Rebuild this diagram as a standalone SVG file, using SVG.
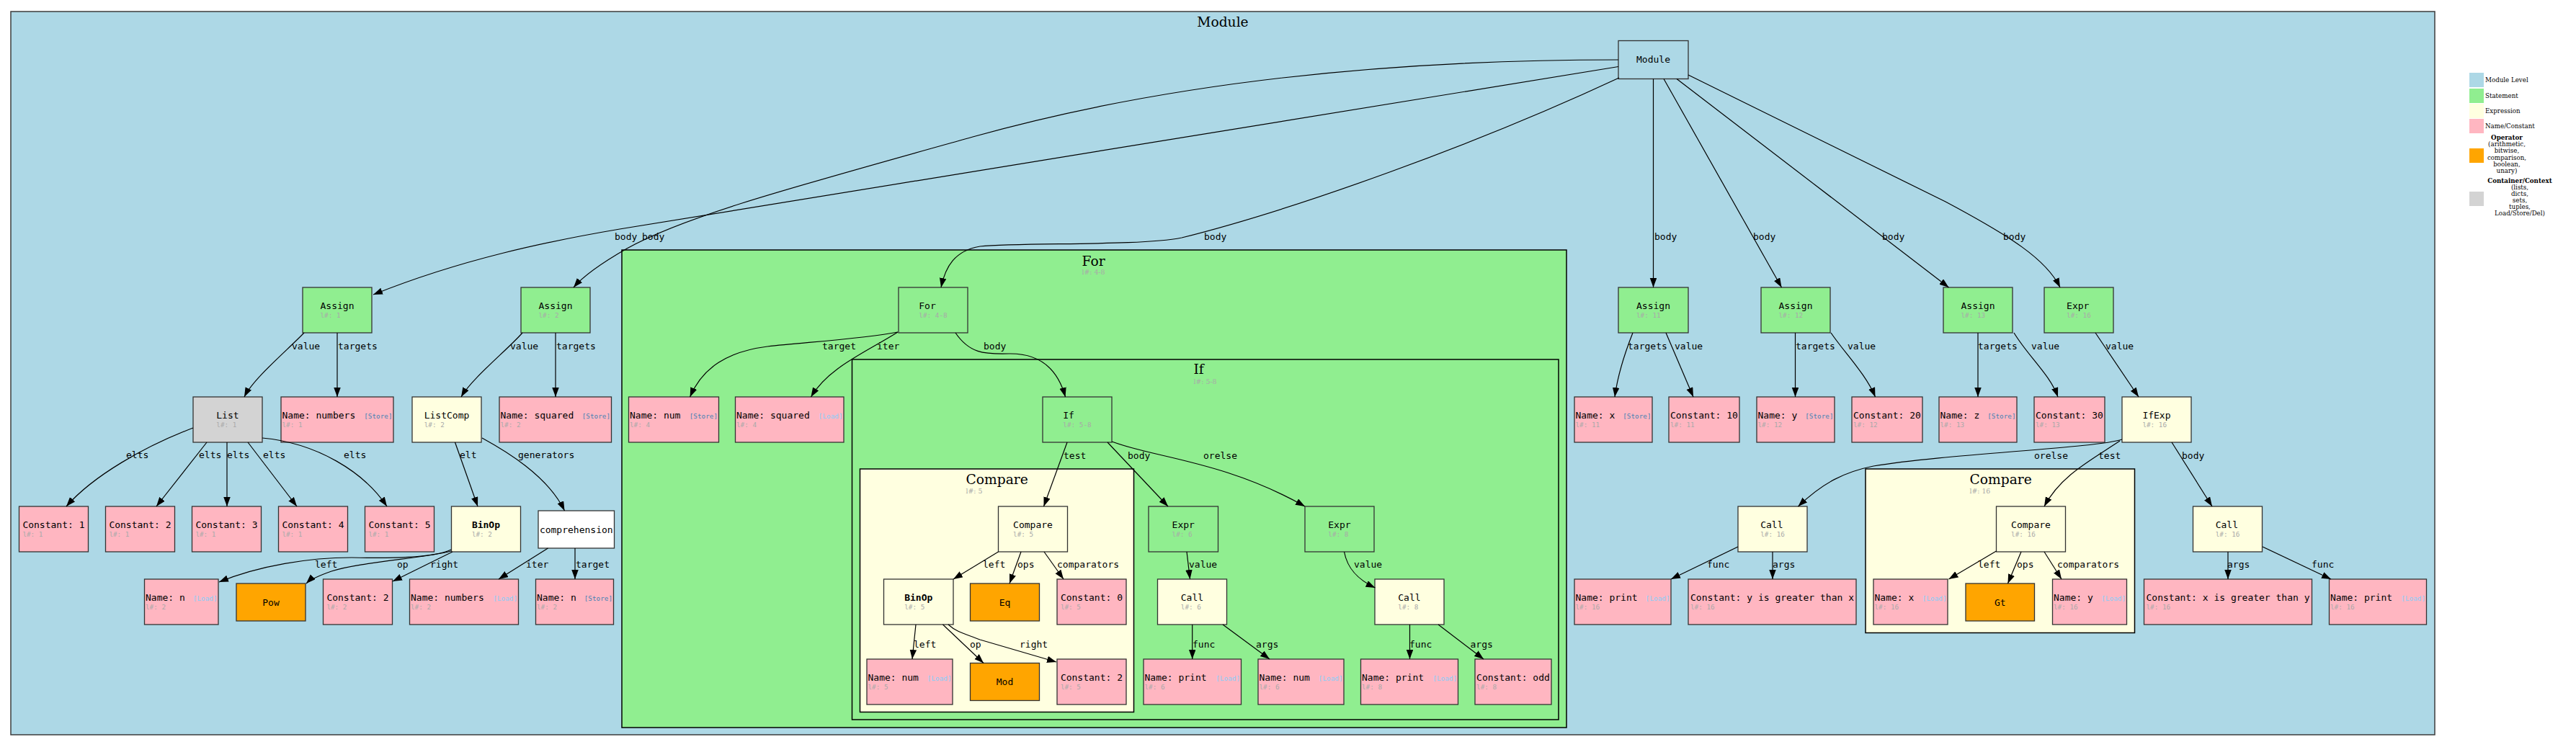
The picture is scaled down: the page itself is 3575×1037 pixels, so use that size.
<svg xmlns="http://www.w3.org/2000/svg" width="3575" height="1037" viewBox="0 0 3575 1037">
<style>
.n{stroke:#333;stroke-width:1.3}
.m{fill:#ADD8E6}.s{fill:#90EE90}.x{fill:#FFFFE0}.p{fill:#FFB6C1}.o{fill:#FFA500}.g{fill:#D3D3D3}.w{fill:#fff}
.t{font-family:"DejaVu Sans Mono",monospace;font-size:13px;fill:#000}
.b{font-weight:bold}
.c{text-anchor:middle}
.sub{font-family:"DejaVu Sans Mono",monospace;font-size:9.33px;fill:#a9a9a9}
.st{font-family:"DejaVu Sans Mono",monospace;font-size:9.33px;fill:#4682B4;text-anchor:end}
.ld{font-family:"DejaVu Sans Mono",monospace;font-size:9.33px;fill:#87CEFA;text-anchor:end}
.e{fill:none;stroke:#000;stroke-width:1.2;marker-end:url(#ah)}
.el{font-family:"DejaVu Sans Mono",monospace;font-size:13px;fill:#000}
.cl{stroke:#000;stroke-width:1.5}
.ct{font-family:"DejaVu Serif",serif;font-size:18.67px;fill:#000}
.cs{font-family:"DejaVu Serif",serif;font-size:9.33px;fill:#a9a9a9}
.lg{font-family:"DejaVu Serif",serif;font-size:8.7px;fill:#000}
.lb{font-weight:bold;text-anchor:middle}
.lc{text-anchor:middle}
</style>
<defs>
<marker id="ah" markerUnits="userSpaceOnUse" markerWidth="14" markerHeight="10" viewBox="0 0 14 10" refX="13" refY="4.75" orient="auto"><path d="M0,0 L13,4.75 L0,9.5 z" fill="#000"/></marker>
</defs>
<rect width="3575" height="1037" fill="#fff"/>
<g id="cluster_module"><rect x="15" y="16" width="3364" height="1004" fill="#ADD8E6" stroke="#3c3c3c" stroke-width="1.5"/><text class="ct c" x="1697" y="36.5">Module</text></g>
<g id="cluster_for"><rect class="cl" x="863" y="347" width="1311" height="663" fill="#90EE90"/><text class="ct" x="1501.5" y="369">For</text><text class="cs" x="1501.5" y="381">l#: 4-8</text></g>
<g id="cluster_if"><rect class="cl" x="1182.5" y="499" width="980.5" height="500" fill="#90EE90"/><text class="ct" x="1656.5" y="519">If</text><text class="cs" x="1656.5" y="532.5">l#: 5-8</text></g>
<g id="cluster_compare5"><rect class="cl" x="1193.5" y="651" width="380" height="337.5" fill="#FFFFE0"/><text class="ct" x="1340.5" y="672">Compare</text><text class="cs" x="1340.5" y="684.5">l#: 5</text></g>
<g id="cluster_compare16"><rect class="cl" x="2589" y="651" width="373.5" height="227.5" fill="#FFFFE0"/><text class="ct" x="2733.5" y="672">Compare</text><text class="cs" x="2733.5" y="685">l#: 16</text></g>

<g id="n_module"><rect class="n m" x="2246" y="56.5" width="97" height="53"/><text class="t c" x="2294.5" y="87">Module</text></g>
<g id="n_assign1"><rect class="n s" x="420" y="399" width="96" height="63"/><text class="t" x="444.5" y="428.5">Assign</text><text class="sub" x="444.5" y="440.5">l#: 1</text></g>
<g id="n_assign2"><rect class="n s" x="723" y="399" width="96" height="63"/><text class="t" x="747.5" y="428.5">Assign</text><text class="sub" x="747.5" y="440.5">l#: 2</text></g>
<g id="n_for"><rect class="n s" x="1247" y="399" width="96" height="63"/><text class="t" x="1275.3" y="428.5">For</text><text class="sub" x="1275.3" y="440.5">l#: 4-8</text></g>
<g id="n_assign11"><rect class="n s" x="2246" y="399" width="97" height="63"/><text class="t" x="2271" y="428.5">Assign</text><text class="sub" x="2271" y="440.5">l#: 11</text></g>
<g id="n_assign12"><rect class="n s" x="2444" y="399" width="96" height="63"/><text class="t" x="2468.5" y="428.5">Assign</text><text class="sub" x="2468.5" y="440.5">l#: 12</text></g>
<g id="n_assign13"><rect class="n s" x="2697" y="399" width="96" height="63"/><text class="t" x="2721.5" y="428.5">Assign</text><text class="sub" x="2721.5" y="440.5">l#: 13</text></g>
<g id="n_expr16"><rect class="n s" x="2837" y="399" width="96" height="63"/><text class="t" x="2868.1" y="428.5">Expr</text><text class="sub" x="2868.1" y="440.5">l#: 16</text></g>

<g id="n_list"><rect class="n g" x="268" y="551" width="96" height="63"/><text class="t" x="300.3" y="580.5">List</text><text class="sub" x="300.3" y="592.5">l#: 1</text></g>
<g id="n_name_numbers_store"><rect class="n p" x="390" y="551" width="156" height="63"/><text class="t" x="391.5" y="580.5">Name: numbers</text><text class="st" x="544.5" y="580.5">[Store]</text><text class="sub" x="391.5" y="592.5">l#: 1</text></g>
<g id="n_listcomp"><rect class="n x" x="572" y="551" width="96" height="63"/><text class="t" x="588.7" y="580.5">ListComp</text><text class="sub" x="588.7" y="592.5">l#: 2</text></g>
<g id="n_name_squared_store"><rect class="n p" x="693" y="551" width="155.5" height="63"/><text class="t" x="694.5" y="580.5">Name: squared</text><text class="st" x="847" y="580.5">[Store]</text><text class="sub" x="694.5" y="592.5">l#: 2</text></g>
<g id="n_name_num_store"><rect class="n p" x="872.5" y="551" width="125" height="63"/><text class="t" x="874" y="580.5">Name: num</text><text class="st" x="996" y="580.5">[Store]</text><text class="sub" x="874" y="592.5">l#: 4</text></g>
<g id="n_name_squared_load"><rect class="n p" x="1020.5" y="551" width="150.5" height="63"/><text class="t" x="1022" y="580.5">Name: squared</text><text class="ld" x="1169.5" y="580.5">[Load]</text><text class="sub" x="1022" y="592.5">l#: 4</text></g>
<g id="n_if"><rect class="n s" x="1447" y="551" width="96" height="63"/><text class="t" x="1475.3" y="580.5">If</text><text class="sub" x="1475.3" y="592.5">l#: 5-8</text></g>
<g id="n_name_x_store"><rect class="n p" x="2185" y="551" width="108" height="63"/><text class="t" x="2186.5" y="580.5">Name: x</text><text class="st" x="2291.5" y="580.5">[Store]</text><text class="sub" x="2186.5" y="592.5">l#: 11</text></g>
<g id="n_const10"><rect class="n p" x="2316" y="551" width="98" height="63"/><text class="t" x="2318" y="580.5">Constant: 10</text><text class="sub" x="2318" y="592.5">l#: 11</text></g>
<g id="n_name_y_store"><rect class="n p" x="2438" y="551" width="108" height="63"/><text class="t" x="2439.5" y="580.5">Name: y</text><text class="st" x="2544.5" y="580.5">[Store]</text><text class="sub" x="2439.5" y="592.5">l#: 12</text></g>
<g id="n_const20"><rect class="n p" x="2570" y="551" width="98" height="63"/><text class="t" x="2572" y="580.5">Constant: 20</text><text class="sub" x="2572" y="592.5">l#: 12</text></g>
<g id="n_name_z_store"><rect class="n p" x="2691" y="551" width="108" height="63"/><text class="t" x="2692.5" y="580.5">Name: z</text><text class="st" x="2797.5" y="580.5">[Store]</text><text class="sub" x="2692.5" y="592.5">l#: 13</text></g>
<g id="n_const30"><rect class="n p" x="2823" y="551" width="98" height="63"/><text class="t" x="2825" y="580.5">Constant: 30</text><text class="sub" x="2825" y="592.5">l#: 13</text></g>
<g id="n_ifexp"><rect class="n x" x="2945" y="551" width="96" height="63"/><text class="t" x="2973.4" y="580.5">IfExp</text><text class="sub" x="2973.4" y="592.5">l#: 16</text></g>

<g id="n_const1"><rect class="n p" x="26.5" y="703" width="96" height="63"/><text class="t" x="31.4" y="732.5">Constant: 1</text><text class="sub" x="31.4" y="744.5">l#: 1</text></g>
<g id="n_const2"><rect class="n p" x="146.5" y="703" width="96" height="63"/><text class="t" x="151.4" y="732.5">Constant: 2</text><text class="sub" x="151.4" y="744.5">l#: 1</text></g>
<g id="n_const3"><rect class="n p" x="266.5" y="703" width="96" height="63"/><text class="t" x="271.4" y="732.5">Constant: 3</text><text class="sub" x="271.4" y="744.5">l#: 1</text></g>
<g id="n_const4"><rect class="n p" x="386.5" y="703" width="96" height="63"/><text class="t" x="391.4" y="732.5">Constant: 4</text><text class="sub" x="391.4" y="744.5">l#: 1</text></g>
<g id="n_const5"><rect class="n p" x="506.5" y="703" width="96" height="63"/><text class="t" x="511.4" y="732.5">Constant: 5</text><text class="sub" x="511.4" y="744.5">l#: 1</text></g>
<g id="n_binop2"><rect class="n x" x="626.5" y="703" width="96" height="63"/><text class="t b" x="654.9" y="732.5">BinOp</text><text class="sub" x="654.9" y="744.5">l#: 2</text></g>
<g id="n_comprehension"><rect class="n w" x="747" y="709" width="105.5" height="52"/><text class="t c" x="799.75" y="739.5">comprehension</text></g>
<g id="n_compare5"><rect class="n x" x="1385.5" y="703" width="96" height="63"/><text class="t" x="1406.1" y="732.5">Compare</text><text class="sub" x="1406.1" y="744.5">l#: 5</text></g>
<g id="n_expr6"><rect class="n s" x="1594" y="703" width="96.5" height="63"/><text class="t" x="1626.6" y="732.5">Expr</text><text class="sub" x="1626.6" y="744.5">l#: 6</text></g>
<g id="n_expr8"><rect class="n s" x="1811" y="703" width="96" height="63"/><text class="t" x="1843.3" y="732.5">Expr</text><text class="sub" x="1843.3" y="744.5">l#: 8</text></g>
<g id="n_call16a"><rect class="n x" x="2412" y="703" width="96" height="63"/><text class="t" x="2443.2" y="732.5">Call</text><text class="sub" x="2443.2" y="744.5">l#: 16</text></g>
<g id="n_compare16"><rect class="n x" x="2770.5" y="703" width="96" height="63"/><text class="t" x="2791.1" y="732.5">Compare</text><text class="sub" x="2791.1" y="744.5">l#: 16</text></g>
<g id="n_call16b"><rect class="n x" x="3043.5" y="703" width="96" height="63"/><text class="t" x="3074.7" y="732.5">Call</text><text class="sub" x="3074.7" y="744.5">l#: 16</text></g>

<g id="n_name_n_load"><rect class="n p" x="200.5" y="804" width="102.5" height="63"/><text class="t" x="202" y="833.5">Name: n</text><text class="ld" x="301.5" y="833.5">[Load]</text><text class="sub" x="202" y="845.5">l#: 2</text></g>
<g id="n_pow"><rect class="n o" x="328" y="810" width="96" height="52"/><text class="t c" x="376" y="840.5">Pow</text></g>
<g id="n_const2_l2"><rect class="n p" x="448.5" y="804" width="96" height="63"/><text class="t" x="453.4" y="833.5">Constant: 2</text><text class="sub" x="453.4" y="845.5">l#: 2</text></g>
<g id="n_name_numbers_load"><rect class="n p" x="568.5" y="804" width="151" height="63"/><text class="t" x="570" y="833.5">Name: numbers</text><text class="ld" x="718" y="833.5">[Load]</text><text class="sub" x="570" y="845.5">l#: 2</text></g>
<g id="n_name_n_store"><rect class="n p" x="743.5" y="804" width="108" height="63"/><text class="t" x="745" y="833.5">Name: n</text><text class="st" x="850" y="833.5">[Store]</text><text class="sub" x="745" y="845.5">l#: 2</text></g>
<g id="n_binop5"><rect class="n x" x="1226.5" y="804" width="96.5" height="63"/><text class="t b" x="1255.2" y="833.5">BinOp</text><text class="sub" x="1255.2" y="845.5">l#: 5</text></g>
<g id="n_eq"><rect class="n o" x="1346.5" y="810" width="96" height="52"/><text class="t c" x="1394.5" y="840.5">Eq</text></g>
<g id="n_const0"><rect class="n p" x="1467" y="804" width="96" height="63"/><text class="t" x="1471.9" y="833.5">Constant: 0</text><text class="sub" x="1471.9" y="845.5">l#: 5</text></g>
<g id="n_call6"><rect class="n x" x="1606.5" y="804" width="96" height="63"/><text class="t" x="1638.8" y="833.5">Call</text><text class="sub" x="1638.8" y="845.5">l#: 6</text></g>
<g id="n_call8"><rect class="n x" x="1908" y="804" width="96" height="63"/><text class="t" x="1940.3" y="833.5">Call</text><text class="sub" x="1940.3" y="845.5">l#: 8</text></g>
<g id="n_name_print16a"><rect class="n p" x="2185" y="804" width="134" height="63"/><text class="t" x="2186.5" y="833.5">Name: print</text><text class="ld" x="2317.5" y="833.5">[Load]</text><text class="sub" x="2186.5" y="845.5">l#: 16</text></g>
<g id="n_const_ygx"><rect class="n p" x="2343" y="804" width="233" height="63"/><text class="t" x="2346" y="833.5">Constant: y is greater than x</text><text class="sub" x="2346" y="845.5">l#: 16</text></g>
<g id="n_name_x_load"><rect class="n p" x="2600" y="804" width="103" height="63"/><text class="t" x="2601.5" y="833.5">Name: x</text><text class="ld" x="2701.5" y="833.5">[Load]</text><text class="sub" x="2601.5" y="845.5">l#: 16</text></g>
<g id="n_gt"><rect class="n o" x="2728" y="810" width="95.5" height="52"/><text class="t c" x="2775.75" y="840.5">Gt</text></g>
<g id="n_name_y_load"><rect class="n p" x="2848.5" y="804" width="103" height="63"/><text class="t" x="2850" y="833.5">Name: y</text><text class="ld" x="2950" y="833.5">[Load]</text><text class="sub" x="2850" y="845.5">l#: 16</text></g>
<g id="n_const_xgy"><rect class="n p" x="2975.5" y="804" width="233" height="63"/><text class="t" x="2978.5" y="833.5">Constant: x is greater than y</text><text class="sub" x="2978.5" y="845.5">l#: 16</text></g>
<g id="n_name_print16b"><rect class="n p" x="3232.5" y="804" width="135" height="63"/><text class="t" x="3234" y="833.5">Name: print</text><text class="ld" x="3366" y="833.5">[Load]</text><text class="sub" x="3234" y="845.5">l#: 16</text></g>

<g id="n_name_num_load5"><rect class="n p" x="1203" y="915" width="119" height="63"/><text class="t" x="1204.5" y="944.5">Name: num</text><text class="ld" x="1320.5" y="944.5">[Load]</text><text class="sub" x="1204.5" y="956.5">l#: 5</text></g>
<g id="n_mod"><rect class="n o" x="1346.5" y="920.5" width="96" height="52"/><text class="t c" x="1394.5" y="951">Mod</text></g>
<g id="n_const2_l5"><rect class="n p" x="1467" y="915" width="96" height="63"/><text class="t" x="1471.9" y="944.5">Constant: 2</text><text class="sub" x="1471.9" y="956.5">l#: 5</text></g>
<g id="n_name_print6"><rect class="n p" x="1587" y="915" width="135.5" height="63"/><text class="t" x="1588.5" y="944.5">Name: print</text><text class="ld" x="1721" y="944.5">[Load]</text><text class="sub" x="1588.5" y="956.5">l#: 6</text></g>
<g id="n_name_num6"><rect class="n p" x="1746" y="915" width="119" height="63"/><text class="t" x="1747.5" y="944.5">Name: num</text><text class="ld" x="1863.5" y="944.5">[Load]</text><text class="sub" x="1747.5" y="956.5">l#: 6</text></g>
<g id="n_name_print8"><rect class="n p" x="1888.5" y="915" width="135" height="63"/><text class="t" x="1890" y="944.5">Name: print</text><text class="ld" x="2022" y="944.5">[Load]</text><text class="sub" x="1890" y="956.5">l#: 8</text></g>
<g id="n_const_odd"><rect class="n p" x="2047" y="915" width="106" height="63"/><text class="t" x="2049.1" y="944.5">Constant: odd</text><text class="sub" x="2049.1" y="956.5">l#: 8</text></g>

<g id="connectors">
<path class="e" d="M2246,92.5 L860,318 C760,335 640,360 518,409"/>
<path class="e" d="M2246,83 C1900,83 1600,120 1350,190 C1100,260 950,300 870,345 C830,368 808,385 796,399"/>
<text class="el" x="853" y="333">body</text><text class="el" x="891" y="333">body</text>
<path class="e" d="M2247,108 C2050,200 1800,290 1640,330 C1580,342 1420,336 1360,342 C1325,348 1312,370 1306,399"/>
<text class="el" x="1671" y="333">body</text>
<path class="e" d="M2294.5,109.5 L2294.5,399"/>
<text class="el" x="2296" y="333">body</text>
<path class="e" d="M2309,109.5 L2472.5,399"/>
<text class="el" x="2433" y="333">body</text>
<path class="e" d="M2327,109.5 L2704.5,399"/>
<text class="el" x="2612" y="333">body</text>
<path class="e" d="M2343,104 L2700,280 C2790,328 2840,360 2859,399"/>
<text class="el" x="2780" y="333">body</text>

<path class="e" d="M422,462 C400,485 352,525 339,551"/>
<text class="el" x="405" y="485">value</text>
<path class="e" d="M468,462 L468,551"/>
<text class="el" x="469" y="485">targets</text>
<path class="e" d="M725,462 C705,485 655,525 640,551"/>
<text class="el" x="708" y="485">value</text>
<path class="e" d="M771,462 L771,551"/>
<text class="el" x="772" y="485">targets</text>

<path class="e" d="M268,594 C200,620 130,660 92,703"/>
<text class="el" x="175" y="636">elts</text>
<path class="e" d="M287,614 L217,703"/>
<text class="el" x="276" y="636">elts</text>
<path class="e" d="M315,614 L315,703"/>
<text class="el" x="315" y="636">elts</text>
<path class="e" d="M344,614 L412,703"/>
<text class="el" x="365" y="636">elts</text>
<path class="e" d="M364,608 C440,615 505,655 537,703"/>
<text class="el" x="477" y="636">elts</text>
<path class="e" d="M631.5,614 L663,703"/>
<text class="el" x="638" y="636">elt</text>
<path class="e" d="M669,608 C700,625 760,660 783.5,709"/>
<text class="el" x="719" y="636">generators</text>

<path class="e" d="M626,763 C600,775 540,775 488,774 C430,774 360,785 304,808"/>
<text class="el" x="437" y="788">left</text>
<path class="e" d="M626,765 C590,775 500,780 460,793 C440,800 430,805 425,810"/>
<text class="el" x="551" y="788">op</text>
<path class="e" d="M628,766 L545,807"/>
<text class="el" x="597" y="788">right</text>
<path class="e" d="M760.5,761 L692,804"/>
<text class="el" x="730" y="788">iter</text>
<path class="e" d="M798,761 L798,804"/>
<text class="el" x="799" y="788">target</text>

<path class="e" d="M1246,461 C1200,470 1120,475 1065,481 C1010,488 975,510 957.6,551"/>
<text class="el" x="1141" y="485">target</text>
<path class="e" d="M1246,461 C1200,490 1150,510 1125.5,551"/>
<text class="el" x="1217" y="485">iter</text>
<path class="e" d="M1326,462 C1345,490 1365,492 1400,491 C1450,490 1470,520 1478.5,551"/>
<text class="el" x="1365" y="485">body</text>

<path class="e" d="M1481,614 L1448.5,703"/>
<text class="el" x="1476" y="637">test</text>
<path class="e" d="M1537,614 L1621,703"/>
<text class="el" x="1565" y="637">body</text>
<path class="e" d="M1543,613 C1600,635 1700,640 1811,703"/>
<text class="el" x="1670" y="637">orelse</text>

<path class="e" d="M1385.5,766 L1323,804"/>
<text class="el" x="1364" y="788">left</text>
<path class="e" d="M1417,766 L1401,810"/>
<text class="el" x="1412" y="788">ops</text>
<path class="e" d="M1449,766 L1476,804"/>
<text class="el" x="1467" y="788">comparators</text>
<path class="e" d="M1271,867 L1266,915"/>
<text class="el" x="1268" y="899">left</text>
<path class="e" d="M1308.5,867 L1365,920.5"/>
<text class="el" x="1346" y="899">op</text>
<path class="e" d="M1316,867 C1328,878 1340,880 1360,888 L1466,919"/>
<text class="el" x="1415" y="899">right</text>

<path class="e" d="M1647,766 L1651.5,804"/>
<text class="el" x="1650" y="788">value</text>
<path class="e" d="M1865.5,766 C1870,790 1885,805 1908.5,816"/>
<text class="el" x="1879" y="788">value</text>
<path class="e" d="M1654.7,867 L1654.7,915"/>
<text class="el" x="1655" y="899">func</text>
<path class="e" d="M1697,867 L1762,915"/>
<text class="el" x="1743" y="899">args</text>
<path class="e" d="M1956.5,867 L1956.5,915"/>
<text class="el" x="1956" y="899">func</text>
<path class="e" d="M1996,867 L2059,915"/>
<text class="el" x="2040.5" y="899">args</text>

<path class="e" d="M2266,462 C2255,490 2245,520 2241,551"/>
<text class="el" x="2259" y="485">targets</text>
<path class="e" d="M2312,462 L2350,551"/>
<text class="el" x="2324" y="485">value</text>
<path class="e" d="M2491.5,462 L2491.5,551"/>
<text class="el" x="2492" y="485">targets</text>
<path class="e" d="M2541,462 C2560,490 2590,520 2602.5,551"/>
<text class="el" x="2564" y="485">value</text>
<path class="e" d="M2745,462 L2745,551"/>
<text class="el" x="2745" y="485">targets</text>
<path class="e" d="M2795,462 C2815,495 2845,520 2856,551"/>
<text class="el" x="2819" y="485">value</text>
<path class="e" d="M2908,462 L2968,551"/>
<text class="el" x="2922" y="485">value</text>

<path class="e" d="M2945,610 C2910,622 2700,630 2600,647 C2560,655 2530,670 2495.5,703"/>
<text class="el" x="2823" y="637">orelse</text>
<path class="e" d="M2942,612 C2900,640 2860,660 2837,703"/>
<text class="el" x="2912" y="637">test</text>
<path class="e" d="M3014,614 L3070,703"/>
<text class="el" x="3028" y="637">body</text>

<path class="e" d="M2412,759 L2319,804"/>
<text class="el" x="2369" y="788">func</text>
<path class="e" d="M2460,766 L2460,804"/>
<text class="el" x="2460" y="788">args</text>
<path class="e" d="M2770.5,765 L2704.5,804"/>
<text class="el" x="2745" y="788">left</text>
<path class="e" d="M2805,766 L2786.5,810"/>
<text class="el" x="2799" y="788">ops</text>
<path class="e" d="M2837,766 L2861,804"/>
<text class="el" x="2855" y="788">comparators</text>
<path class="e" d="M3092,766 L3092,804"/>
<text class="el" x="3091" y="788">args</text>
<path class="e" d="M3140,759 L3235,804"/>
<text class="el" x="3208" y="788">func</text>
</g>

<g id="legend">
<rect class="m" x="3427" y="101" width="20" height="20"/><text class="lg" x="3449" y="114">Module Level</text>
<rect class="s" x="3427" y="123" width="20" height="20"/><text class="lg" x="3449" y="135.5">Statement</text>
<rect class="x" x="3427" y="144" width="20" height="20"/><text class="lg" x="3449" y="157">Expression</text>
<rect class="p" x="3427" y="165" width="20" height="20"/><text class="lg" x="3449" y="178">Name/Constant</text>
<rect class="o" x="3427" y="206" width="20" height="20"/>
<text class="lg lb" x="3479" y="194">Operator</text>
<text class="lg lc" x="3479" y="203">(arithmetic,</text>
<text class="lg lc" x="3479" y="212">bitwise,</text>
<text class="lg lc" x="3479" y="221.5">comparison,</text>
<text class="lg lc" x="3479" y="230.5">boolean,</text>
<text class="lg lc" x="3479" y="239.5">unary)</text>
<rect class="g" x="3427" y="266" width="20" height="20"/>
<text class="lg lb" x="3497" y="254">Container/Context</text>
<text class="lg lc" x="3497" y="263">(lists,</text>
<text class="lg lc" x="3497" y="272">dicts,</text>
<text class="lg lc" x="3497" y="281">sets,</text>
<text class="lg lc" x="3497" y="290">tuples,</text>
<text class="lg lc" x="3497" y="299">Load/Store/Del)</text>
</g>
</svg>
